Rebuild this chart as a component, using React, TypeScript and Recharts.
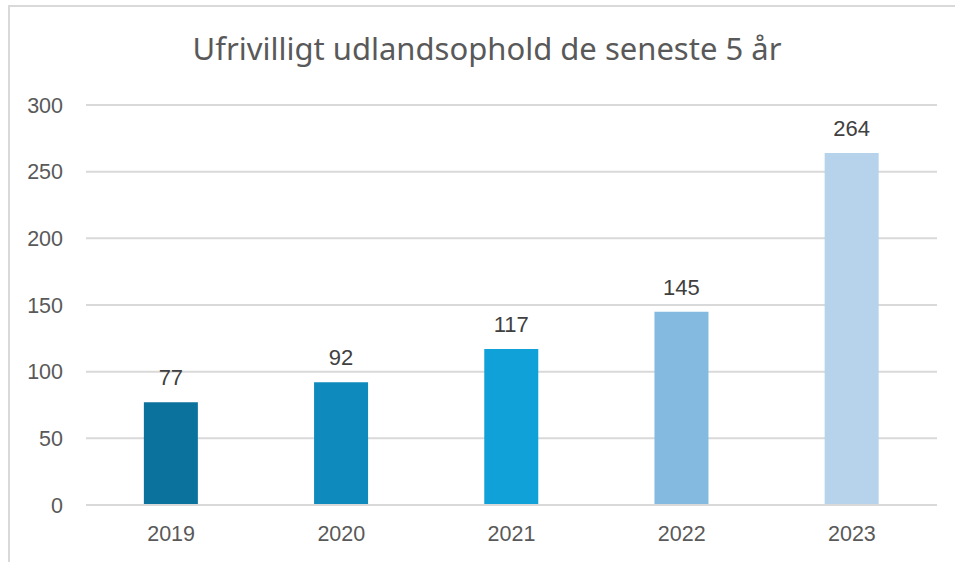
import { BarChart, Bar, XAxis, YAxis, CartesianGrid, Cell, LabelList } from "recharts";

const years = ["2019", "2020", "2021", "2022", "2023"];
const counts = [77, 92, 117, 145, 264];
const barColors = ["#0B729E", "#0E8ABD", "#10A1D9", "#84BAE0", "#B7D2EB"];
const yTicks = [0, 50, 100, 150, 200, 250, 300];

const data = years.map((year, i) => ({ year, count: counts[i] }));

const font = "'Liberation Sans', Arial, sans-serif";

export default function App() {
  return (
    <div
      style={{
        position: "fixed",
        left: 0,
        top: 0,
        width: 955,
        height: 562,
        background: "#fff",
        overflow: "hidden",
      }}
    >
      <div
        style={{
          position: "absolute",
          left: 8,
          top: 5,
          width: 960,
          height: 570,
          borderTop: "2px solid #d9d9d9",
          borderLeft: "2px solid #d9d9d9",
        }}
      />
      <div
        style={{
          position: "absolute",
          left: 0,
          width: 974,
          top: 27,
          textAlign: "center",
          fontFamily: "'Noto Sans', sans-serif",
          fontSize: 31,
          color: "#595959",
          whiteSpace: "nowrap",
        }}
      >
        Ufrivilligt udlandsophold de seneste 5 år
      </div>
      <div style={{ position: "absolute", left: 0, top: 0 }}>
        <BarChart
          width={955}
          height={562}
          data={data}
          margin={{ top: 105, right: 18, bottom: 0, left: 0 }}
          barCategoryGap="34%"
        >
          <CartesianGrid vertical={false} stroke="#d9d9d9" strokeWidth={2} />
          <XAxis
            dataKey="year"
            axisLine={{ stroke: "#d9d9d9", strokeWidth: 2 }}
            tickLine={false}
            tickMargin={15}
            height={57}
            tick={{ fill: "#595959", fontSize: 21.5, fontFamily: font }}
          />
          <YAxis
            width={86}
            domain={[0, 300]}
            ticks={yTicks}
            axisLine={false}
            tickLine={false}
            tickMargin={17}
            tick={{ fill: "#595959", fontSize: 21.5, fontFamily: font }}
          />
          <Bar dataKey="count" isAnimationActive={false}>
            {data.map((entry, i) => (
              <Cell key={entry.year} fill={barColors[i]} />
            ))}
            <LabelList
              dataKey="count"
              position="top"
              offset={17}
              fill="#404040"
              fontSize={22}
              fontFamily={font}
            />
          </Bar>
        </BarChart>
      </div>
    </div>
  );
}
